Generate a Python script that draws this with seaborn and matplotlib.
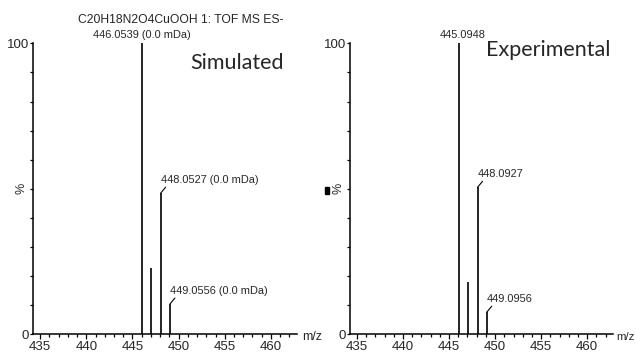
import numpy as np
import pandas as pd
import seaborn as sns
import matplotlib
matplotlib.use("Agg")
import matplotlib.pyplot as plt
from matplotlib.ticker import MultipleLocator, FixedLocator
from matplotlib.patches import Rectangle

# ---- data ----
header = "C20H18N2O4CuOOH 1: TOF MS ES-"
panel_names = ["Simulated", "Experimental"]
sim_mz = [446.0539, 447.0570, 448.0527, 449.0556]
sim_int = [100.0, 22.7, 48.5, 10.4]
sim_labels = ["446.0539 (0.0 mDa)", "", "448.0527 (0.0 mDa)", "449.0556 (0.0 mDa)"]
exp_mz = [446.0948, 447.0980, 448.0927, 449.0956]
exp_int = [100.0, 17.9, 50.5, 7.6]
exp_labels = ["445.0948", "", "448.0927", "449.0956"]
x_ticks = [435, 440, 445, 450, 455, 460]
y_ticks = [0, 100]

sns.set_theme(style="ticks")
plt.rcParams["font.family"] = ["Liberation Sans", "DejaVu Sans"]

W, H = 636, 352
fig = plt.figure(figsize=(W / 100, H / 100), dpi=100)

def frac_axes(x0, x1, ytop, ybot):
    return [x0 / W, 1 - ybot / H, (x1 - x0) / W, (ybot - ytop) / H]

ax1 = fig.add_axes(frac_axes(33.3, 296.7, 43.3, 334.3))
ax2 = fig.add_axes(frac_axes(350.0, 613.0, 43.3, 334.3))

def draw(ax, mz, inten, labels, name, name_pos, main_off, mz_off, mz_size):
    df = pd.DataFrame({"mz": mz, "intensity": inten, "label": labels})
    ax.vlines(df["mz"], 0, df["intensity"], color="black", lw=1.2)
    ax.set_xlim(434.25, 462.8)
    ax.set_ylim(0, 100)
    sns.despine(ax=ax)
    for s in ["left", "bottom"]:
        ax.spines[s].set_linewidth(1.1)
        ax.spines[s].set_color("black")
    ax.xaxis.set_major_locator(FixedLocator(x_ticks))
    ax.xaxis.set_minor_locator(MultipleLocator(1))
    ax.yaxis.set_major_locator(FixedLocator(y_ticks))
    ax.yaxis.set_minor_locator(MultipleLocator(10))
    ax.tick_params(axis="x", which="major", length=3.5, width=0.9, pad=1, labelsize=9.5, color="black")
    ax.tick_params(axis="x", which="minor", length=2, width=0.9, color="black")
    ax.tick_params(axis="y", which="major", length=2.5, width=0.9, pad=0.5, labelsize=9.5, color="black")
    ax.tick_params(axis="y", which="minor", length=2, width=0.9, color="black")
    ax.set_xlabel("")
    ax.set_ylabel("")
    ax.text(-0.045, 0.5, "%", rotation=90, ha="center", va="center",
            transform=ax.transAxes, fontsize=9)
    ax.annotate("m/z", xy=(1, 0), xycoords="axes fraction", xytext=(mz_off, -3),
                textcoords="offset pixels", ha="left", va="center", fontsize=mz_size,
                annotation_clip=False)
    ax.text(name_pos[0], name_pos[1], name, transform=ax.transAxes, ha="left",
            va="center", fontsize=15.5, family=["Lato", "DejaVu Sans"])
    for i, row in df.iterrows():
        if not row["label"]:
            continue
        if i == 0:
            ax.annotate(row["label"], xy=(row["mz"], row["intensity"]),
                        xytext=(main_off, 8), textcoords="offset pixels",
                        ha="center", va="center", fontsize=7.9, annotation_clip=False)
        else:
            ax.annotate(row["label"], xy=(row["mz"], row["intensity"]),
                        xytext=(0, 13), textcoords="offset pixels",
                        ha="left", va="center", fontsize=7.9, annotation_clip=False)
            ax.annotate("", xy=(row["mz"], row["intensity"]),
                        xytext=(5, 6), textcoords="offset pixels",
                        arrowprops=dict(arrowstyle="-", lw=0.8, color="black",
                                        shrinkA=0, shrinkB=0))

draw(ax1, sim_mz, sim_int, sim_labels, panel_names[0], (0.595, 0.932), -0.5, 5, 8.8)
draw(ax2, exp_mz, exp_int, exp_labels, panel_names[1], (0.516, 0.977), 3.4, 3, 8.2)

fig.text(181 / W, 1 - 20 / H, header, ha="center", va="center", fontsize=8.7)
fig.patches.append(Rectangle((325.3 / W, 1 - 194 / H), 3.4 / W, 6.7 / H,
                             transform=fig.transFigure, color="black"))

fig.savefig("out.png", dpi=100)
